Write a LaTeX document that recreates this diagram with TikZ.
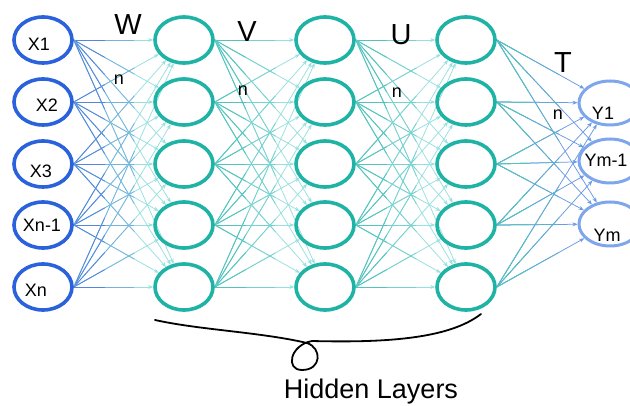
\documentclass[tikz,border=0pt]{standalone}
\usepackage{fontspec}
\setmainfont{Liberation Sans}
\usetikzlibrary{arrows.meta,calc,shapes.geometric}
\definecolor{inblue}{HTML}{2A62DC}
\definecolor{hteal}{HTML}{1FB3A6}
\definecolor{outblue}{HTML}{7EA6EC}
\definecolor{ein}{HTML}{5585DE}
\definecolor{ecyan}{HTML}{98E0E0}
\definecolor{eteal}{HTML}{52C4BD}
\definecolor{eout}{HTML}{6A9AE4}
\pgfdeclarelayer{background}
\pgfsetlayers{background,main}
\newcommand{\gedge}[4]{%
  \draw[conn,#4] (#1.east) -- (#2);
  \draw[eline,#3!50!#4] (#1.east) -- ($(#1.east)!0.55!(#2.center)$);
  \draw[eline,#3] (#1.east) -- ($(#1.east)!0.28!(#2.center)$);
}
\begin{document}
\begin{tikzpicture}[x=1pt,y=-1pt,
  neuron/.style={ellipse, minimum width=58pt, minimum height=46pt, inner sep=0pt, line width=3.6pt},
  innode/.style={neuron, draw=inblue},
  hnode/.style={neuron, draw=hteal},
  outnode/.style={neuron, draw=outblue, line width=3pt, minimum width=62pt, minimum height=44pt},
  lab/.style={font=\fontsize{18}{18}\selectfont, inner sep=0pt},
  wlab/.style={font=\fontsize{29}{29}\selectfont, inner sep=0pt},
  nlab/.style={font=\fontsize{18}{18}\selectfont, inner sep=0pt},
  eline/.style={line width=0.75pt},
  conn/.style={eline, -{Stealth[length=5pt,width=4pt]}},
  brace/.style={line width=1.8pt, line cap=round, line join=round, black}
]
\useasboundingbox (0,0) rectangle (630,406);

\foreach \i/\y in {1/40,2/102,3/164,4/225,5/287} {
  \node[innode] (x\i) at (43,\y) {};
  \node[hnode] (a\i) at (184,\y) {};
  \node[hnode] (b\i) at (325,\y) {};
  \node[hnode] (c\i) at (466,\y) {};
}
\node[outnode] (y1) at (610,103) {};
\node[outnode] (y2) at (610,161) {};
\node[outnode] (y3) at (610,224) {};

\begin{pgfonlayer}{background}
\fill[white] (0,0) rectangle (630,406);
\foreach \i in {1,...,5} {
  \foreach \j in {1,...,5} {
    \gedge{x\i}{a\j}{ein}{ecyan}
    \gedge{a\i}{b\j}{eteal}{ecyan}
    \gedge{b\i}{c\j}{eteal}{ecyan}
  }
  \foreach \j in {1,2,3} {
    \gedge{c\i}{y\j}{eteal}{eout}
  }
}
\end{pgfonlayer}

\node[lab] (tx1) at (39,44) {X1};
\node[lab] (tx2) at (47,105) {X2};
\node[lab] (tx3) at (41,171) {X3};
\node[lab] (tx4) at (42,225) {Xn-1};
\node[lab] (tx5) at (36,290) {Xn};
\node[lab] (ty1) at (603,113) {Y1};
\node[lab] (ty2) at (606,160) {Ym-1};
\node[lab] (ty3) at (607,235) {Ym};

\node[wlab] (lw) at (128,25) {W};
\node[wlab] (lv) at (247,32) {V};
\node[wlab] (lu) at (401,35) {U};
\node[wlab] (lt) at (563,63) {T};
\node[nlab] (n1) at (119,80) {n};
\node[nlab] (n2) at (243,91) {n};
\node[nlab] (n3) at (397,93) {n};
\node[nlab] (n4) at (558,115) {n};

\coordinate (bs) at (155,320);
\coordinate (bx) at (307,343);
\coordinate (bb) at (302,370);
\coordinate (bc) at (312,341);
\coordinate (be) at (481,314);
\draw[brace] (bs) .. controls (200,330) and (260,332) .. (bx)
  .. controls (322,348) and (322,370) .. (bb)
  .. controls (285,370) and (290,345) .. (bc)
  .. controls (390,343) and (450,338) .. (be);

\node[font=\fontsize{27}{27}\selectfont, inner sep=0pt, anchor=base] (hl) at (371,399) {Hidden Layers};
\end{tikzpicture}
\end{document}
